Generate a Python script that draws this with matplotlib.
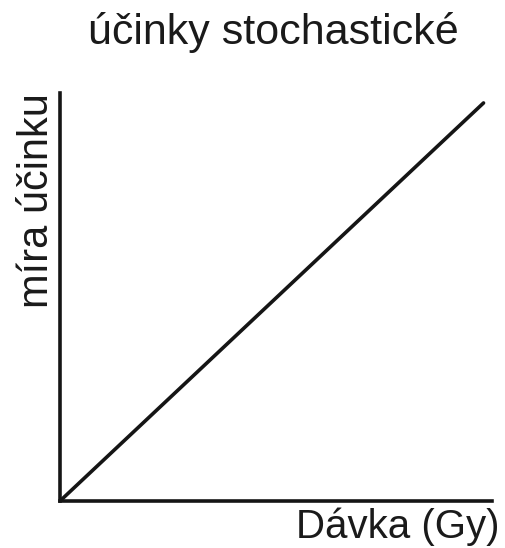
import matplotlib
matplotlib.use("Agg")
import matplotlib.pyplot as plt

# data: linear (no-threshold) dose-effect relation
dose = [0, 10]
effect = [0, 10]

title = "účinky stochastické"
xlabel = "Dávka (Gy)"
ylabel = "míra účinku"

plt.rcParams['font.family'] = ['Liberation Sans', 'DejaVu Sans']

W, H = 505, 548
fig = plt.figure(figsize=(W / 100, H / 100), dpi=100)
ax = fig.add_axes([60 / W, 1 - 501 / H, (492 - 60) / W, (501 - 93) / H])

ax.plot(dose, effect, color='#151515', lw=2.6, solid_capstyle='round')
ax.set_xlim(0, 10.2)
ax.set_ylim(0, 10.25)

for s in ['top', 'right']:
    ax.spines[s].set_visible(False)
for s in ['left', 'bottom']:
    ax.spines[s].set_linewidth(2.6)
    ax.spines[s].set_color('#151515')
ax.set_xticks([])
ax.set_yticks([])

fig.text(273 / W, 1 - 44 / H, title, ha='center', va='baseline',
         fontsize=31, color='#1a1a1a')
fig.text(500 / W, 1 - 538 / H, xlabel, ha='right', va='baseline',
         fontsize=29, color='#1a1a1a')
fig.text(48 / W, 1 - 93 / H, ylabel, rotation=90, rotation_mode='anchor',
         ha='right', va='baseline', fontsize=30, color='#1a1a1a')

fig.savefig('out.png', dpi=100)
